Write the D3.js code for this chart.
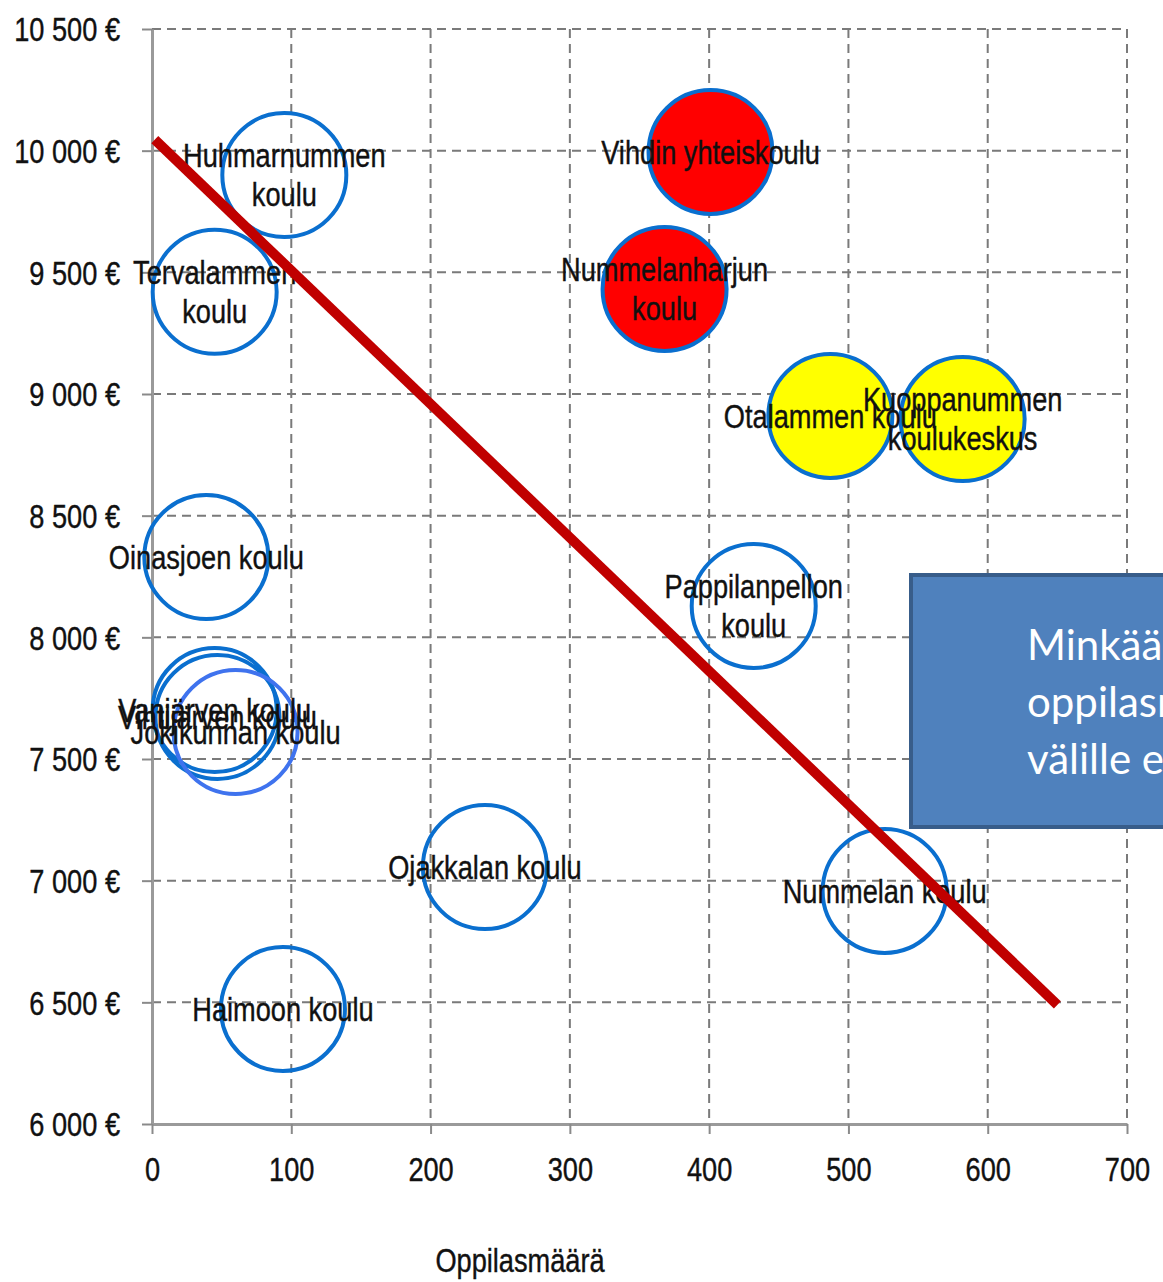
<!DOCTYPE html>
<html>
<head>
<meta charset="utf-8">
<script src="https://cdn.jsdelivr.net/npm/d3@7"></script>
<style>
  html, body { margin: 0; padding: 0; background: #fff; }
  svg { display: block; }
</style>
</head>
<body>
<div id="viz"></div>
<script>
// koulut, oppilasmäärä ja hinta per oppilas
const schools = [
    "Huhmarnummen\nkoulu",
    "Tervalammen\nkoulu",
    "Vihdin yhteiskoulu",
    "Nummelanharjun\nkoulu",
    "Otalammen koulu",
    "Kuoppanummen\nkoulukeskus",
    "Oinasjoen koulu",
    "Pappilanpellon\nkoulu",
    "Vanjärven koulu",
    "Vihtijärven koulu",
    "Jokikunnan koulu",
    "Ojakkalan koulu",
    "Nummelan koulu",
    "Haimoon koulu"
];
const pupils = [95, 45, 401, 368, 487, 582, 39, 432, 45, 47, 60, 239, 526, 94];
const costPerPupil = [9900, 9420, 9995, 9432, 8910, 8897, 8330, 8129, 7701, 7673, 7611, 7056, 6958, 6473];
const groups = ["muu", "muu", "kallis", "kallis", "keski", "keski", "muu", "muu", "muu", "muu", "muu2", "muu", "muu", "muu"];

const xTicks = [0, 100, 200, 300, 400, 500, 600, 700];
const yTicks = [6000, 6500, 7000, 7500, 8000, 8500, 9000, 9500, 10000, 10500];
const yTickLabels = ["6 000 €", "6 500 €", "7 000 €", "7 500 €", "8 000 €", "8 500 €", "9 000 €", "9 500 €", "10 000 €", "10 500 €"];

// punainen viiva (datayksiköissä)
const trendX = [2, 650];
const trendY = [10045, 6490];

const noteLines = ["Minkäänlaista korrelaatiota", "oppilasmäärän ja kustannusten", "välille ei löydy"];

// tyylit
const W = 1163, H = 1282;
const fills = { muu: "none", muu2: "none", kallis: "#ff0000", keski: "#ffff00" };
const strokes = { muu: "#0a6fcf", muu2: "#3f73ee", kallis: "#0a6fcf", keski: "#0a6fcf" };
const R = 62;
const FONT = "'Liberation Sans', Arial, sans-serif";
const FS = 34;
const SX = 0.8;

const svg = d3.select("#viz").append("svg")
    .attr("width", W)
    .attr("height", H);

const x = d3.scaleLinear().domain([0, 700]).range([152, 1127]);
const y = d3.scaleLinear().domain([6000, 10500]).range([1124, 29]);

// ruudukko
svg.append("g")
    .selectAll("line")
    .data(xTicks.slice(1))
    .join("line")
    .attr("x1", d => x(d)).attr("x2", d => x(d))
    .attr("y1", y(10500)).attr("y2", y(6000))
    .attr("stroke", "#7a7a7a")
    .attr("stroke-width", 2)
    .attr("stroke-dasharray", "9,6");

svg.append("g")
    .selectAll("line")
    .data(yTicks.slice(1))
    .join("line")
    .attr("x1", x(0)).attr("x2", x(700))
    .attr("y1", d => y(d)).attr("y2", d => y(d))
    .attr("stroke", "#7a7a7a")
    .attr("stroke-width", 2)
    .attr("stroke-dasharray", "9,6");

// akselit
const yAxis = svg.append("g")
    .attr("transform", `translate(${x(0)},0)`)
    .call(d3.axisLeft(y)
        .tickValues(yTicks)
        .tickSize(10)
        .tickSizeOuter(0)
        .tickFormat((d, i) => yTickLabels[i]));

const xAxis = svg.append("g")
    .attr("transform", `translate(0,${y(6000)})`)
    .call(d3.axisBottom(x)
        .tickValues(xTicks)
        .tickSize(10)
        .tickSizeOuter(0)
        .tickFormat(d3.format("d")));

[yAxis, xAxis].forEach(g => {
    g.select(".domain").attr("stroke", "#9a9a9a").attr("stroke-width", 3);
    g.selectAll(".tick line").attr("stroke", "#8a8a8a").attr("stroke-width", 2);
    g.selectAll("text")
        .attr("font-family", FONT)
        .attr("font-size", FS)
        .attr("fill", "#111")
        .attr("stroke", "#111")
        .attr("stroke-width", 0.4);
});

yAxis.selectAll("text")
    .attr("x", -32 / SX)
    .attr("dy", "0.35em")
    .attr("transform", `scale(${SX},1)`);

xAxis.selectAll("text")
    .attr("y", 33)
    .attr("dy", "0.71em")
    .attr("transform", `scale(${SX},1)`);

// akselin otsikko
svg.append("text")
    .attr("transform", `translate(520,1272) scale(${SX},1)`)
    .attr("text-anchor", "middle")
    .attr("font-family", FONT)
    .attr("font-size", FS)
    .attr("fill", "#111")
    .attr("stroke", "#111")
    .attr("stroke-width", 0.4)
    .text("Oppilasmäärä");

// kuplat
const data = schools.map((s, i) => ({
    name: s, x: pupils[i], y: costPerPupil[i], g: groups[i]
}));

svg.append("g")
    .selectAll("circle")
    .data(data)
    .join("circle")
    .attr("cx", d => x(d.x))
    .attr("cy", d => y(d.y))
    .attr("r", R)
    .attr("fill", d => fills[d.g])
    .attr("stroke", d => strokes[d.g])
    .attr("stroke-width", 4);

// nimet
const labels = svg.append("g")
    .selectAll("text")
    .data(data)
    .join("text")
    .attr("transform", d => `translate(${x(d.x)},${y(d.y)}) scale(${SX},1)`)
    .attr("text-anchor", "middle")
    .attr("font-family", FONT)
    .attr("font-size", FS)
    .attr("fill", "#111")
    .attr("stroke", "#111")
    .attr("stroke-width", 0.4);

labels.each(function(d) {
    const lines = d.name.split("\n");
    const lh = 39;
    const start = -(lines.length - 1) * lh / 2;
    d3.select(this).selectAll("tspan")
        .data(lines)
        .join("tspan")
        .attr("x", 0)
        .attr("y", (l, i) => start + i * lh)
        .attr("dy", "0.35em")
        .text(l => l);
});

// punainen viiva
svg.append("line")
    .attr("x1", x(trendX[0]))
    .attr("y1", y(trendY[0]))
    .attr("x2", x(trendX[1]))
    .attr("y2", y(trendY[1]))
    .attr("stroke", "#c00000")
    .attr("stroke-width", 10);

// tekstilaatikko
const box = svg.append("g");
box.append("rect")
    .attr("x", 911)
    .attr("y", 575)
    .attr("width", 400)
    .attr("height", 252)
    .attr("fill", "#4f81bd")
    .attr("stroke", "#385d8a")
    .attr("stroke-width", 4);

box.append("text")
    .attr("font-family", "Lato, 'Open Sans', sans-serif")
    .attr("font-size", 42)
    .attr("fill", "#fff")
    .selectAll("tspan")
    .data(noteLines)
    .join("tspan")
    .attr("x", 1027)
    .attr("y", (d, i) => 660 + i * 57)
    .text(d => d);
</script>
</body>
</html>
